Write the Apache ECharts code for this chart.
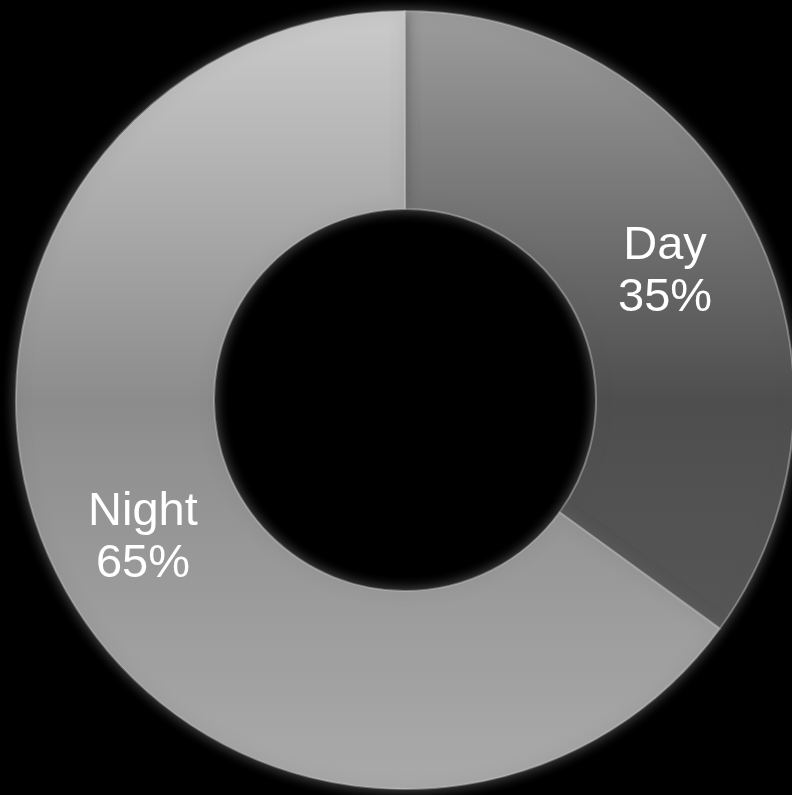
<!DOCTYPE html>
<html>
<head>
<meta charset="utf-8">
<title>Day / Night</title>
<script src="https://cdn.jsdelivr.net/npm/echarts@6/dist/echarts.min.js"></script>
<style>
  html, body { margin: 0; padding: 0; background: #000; }
  #chart { width: 792px; height: 795px; }
</style>
</head>
<body>
<div id="chart"></div>
<script>
// Share of the day split into two parts
const categories = ['Day', 'Night'];
const shares = [35, 65];

// Vertical shading per slice, in page pixels so both slices line up
function shade(stops) {
  return {
    type: 'linear', x: 0, y: 12, x2: 0, y2: 789, global: true,
    colorStops: stops
  };
}
const fills = [
  shade([{ offset: 0, color: '#9c9c9c' }, { offset: 0.5, color: '#4e4e4e' }, { offset: 1, color: '#5c5c5c' }]),
  shade([{ offset: 0, color: '#cbcbcb' }, { offset: 0.5, color: '#8c8c8c' }, { offset: 1, color: '#aaaaaa' }])
];

const chart = echarts.init(document.getElementById('chart'), null, { renderer: 'canvas' });
chart.setOption({
  backgroundColor: '#000000',
  animation: false,
  series: [{
    type: 'pie',
    center: [405, 400],
    radius: [191, 389],
    startAngle: 90,
    clockwise: true,
    silent: true,
    itemStyle: {
      borderColor: 'rgba(200,200,200,0.45)',
      borderWidth: 2,
      shadowBlur: 14,
      shadowColor: 'rgba(95,95,95,1)'
    },
    label: {
      show: true,
      position: 'inside',
      color: '#ffffff',
      fontFamily: '"Liberation Sans", Arial, sans-serif',
      fontSize: 47,
      lineHeight: 52,
      offset: [-1, 5],
      formatter: p => p.name + '\n' + p.value + '%'
    },
    labelLine: { show: false },
    data: categories.map((name, i) => ({
      name,
      value: shares[i],
      itemStyle: { color: fills[i] }
    }))
  }]
});
</script>
</body>
</html>
